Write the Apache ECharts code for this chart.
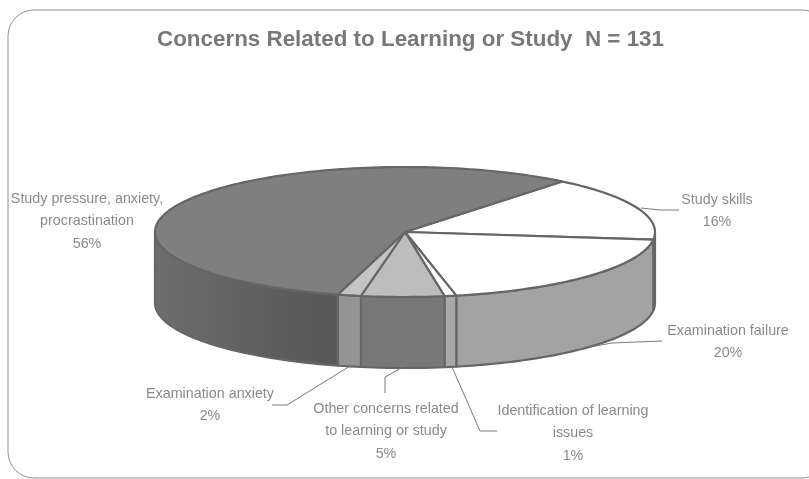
<!DOCTYPE html>
<html><head><meta charset="utf-8">
<style>html,body{margin:0;padding:0;background:#fff}#c{width:809px;height:479px}</style>
<script src="https://cdn.jsdelivr.net/npm/echarts@6/dist/echarts.min.js"></script>
</head><body><div id="c"></div>
<script>
const titleText = 'Concerns Related to Learning or Study  N = 131';
const categories = ['Study skills','Examination failure','Identification of learning issues','Other concerns related to learning or study','Examination anxiety','Study pressure, anxiety, procrastination'];
const counts = [21,26,1,7,2,74];
const totalN = 131;
const labelLines = [['Study skills'],['Examination failure'],['Identification of learning','issues'],['Other concerns related','to learning or study'],['Examination anxiety'],['Study pressure, anxiety,','procrastination']];

const topColors = ['#ffffff','#ffffff','#ffffff','#bdbdbd','#c4c4c4','#7f7f7f'];
const sideColors = ['#a3a3a3','#a3a3a3','#a8a8a8','#787878','#949494','#686868'];
const labelBox = [[717,200],[728,331],[573,411],[386,409],[210,394],[87,199]];
const leaders = [
  [[641,208],[660,210],[679,210]],
  [[590,347],[612,343],[662,341]],
  [[452,367],[480,431],[497,431]],
  [[403,367],[385,377],[385,393]],
  [[350,366],[287,405],[272,405]],
  []
];
const geo = {cx:405, cy:232, a:250, b:65, d:71, start:39};

const P = (deg, dy) => { const r = deg*Math.PI/180; return [geo.cx+geo.a*Math.sin(r), geo.cy-geo.b*Math.cos(r)+(dy||0)]; };
function arc(a0,a1,dy){ const n=Math.max(2,Math.ceil(Math.abs(a1-a0)/1.5)); const o=[]; for(let i=0;i<=n;i++) o.push(P(a0+(a1-a0)*i/n,dy)); return o; }
const edge = '#666666';

let acc = geo.start;
const rows = counts.map((c,i)=>{ const s=acc; acc+=c/totalN*360; return [s,acc,i]; });

const sideItem = (params, api) => {
  const s=api.value(0), e=api.value(1), i=api.value(2);
  const lo=Math.max(s,90), hi=Math.min(e,270);
  if(hi<=lo) return {type:'group',children:[]};
  const pts=arc(lo,hi,0).concat(arc(hi,lo,geo.d));
  let fill=sideColors[i];
  if(i===5) fill={type:'linear',x:0,y:0,x2:1,y2:0,colorStops:[{offset:0,color:'#6e6e6e'},{offset:.7,color:'#5c5c5c'},{offset:1,color:'#585858'}]};
  return {type:'polygon',shape:{points:pts},style:{fill:fill,stroke:edge,lineWidth:2.2,lineJoin:'round'}};
};
const topItem = (params, api) => {
  const s=api.value(0), e=api.value(1), i=api.value(2);
  const pts=[[geo.cx,geo.cy]].concat(arc(s,e,0));
  return {type:'polygon',shape:{points:pts},style:{fill:topColors[i],stroke:edge,lineWidth:2.2,lineJoin:'round'}};
};
const labelItem = (params, api) => {
  const i=api.value(2), box=labelBox[i], pct=Math.round(counts[i]/totalN*100)+'%';
  const lines=labelLines[i].concat([pct]);
  const kids=lines.map((t,k)=>({type:'text',style:{text:t,x:box[0],y:box[1]+k*22.3,align:'center',verticalAlign:'middle',fill:'#8a8a8a',font:'14.3px "Liberation Sans"'}}));
  if(leaders[i].length) kids.push({type:'polyline',shape:{points:leaders[i]},style:{stroke:'#7a7a7a',lineWidth:1,fill:null}});
  return {type:'group',children:kids};
};
const chart = echarts.init(document.getElementById('c'),null,{renderer:'canvas'});
chart.setOption({
  animation:false,
  backgroundColor:'#ffffff',
  title:{text:titleText,left:152,top:24,textStyle:{color:'#787878',fontSize:22.4,fontWeight:'bold',fontFamily:'Liberation Sans'}},
  graphic:[{type:'rect',z:-1,shape:{x:8,y:10,width:820,height:468,r:26},style:{fill:'#fff',stroke:'#8e8e8e',lineWidth:1}}],
  series:[
    {type:'custom',coordinateSystem:'none',silent:true,z:2,data:rows,renderItem:sideItem},
    {type:'custom',coordinateSystem:'none',silent:true,z:3,data:rows,renderItem:topItem},
    {type:'custom',coordinateSystem:'none',silent:true,z:4,data:rows,renderItem:labelItem}
  ]
});
</script></body></html>
